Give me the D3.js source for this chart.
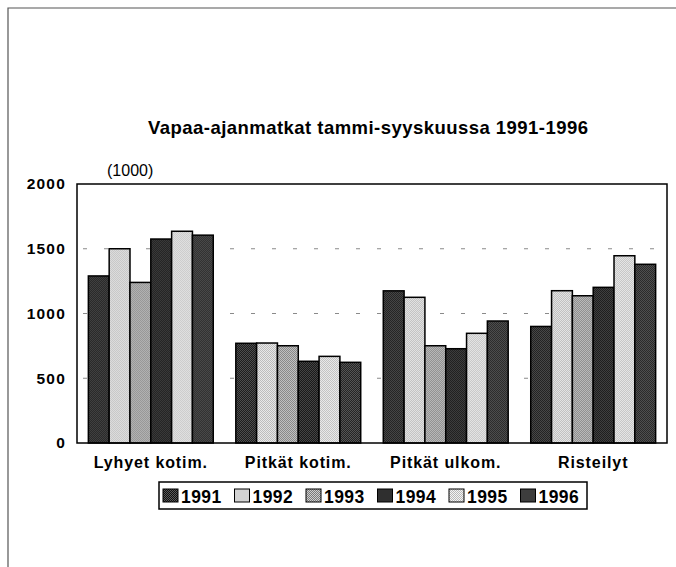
<!DOCTYPE html>
<html>
<head>
<meta charset="utf-8">
<script src="https://cdn.jsdelivr.net/npm/d3@7"></script>
<style>
  body { margin: 0; background: #fff; }
  text { font-family: "Liberation Sans", Arial, sans-serif; }
</style>
</head>
<body>
<div id="chart"></div>
<script>
// data
var categories = ["Lyhyet kotim.", "Pitkät kotim.", "Pitkät ulkom.", "Risteilyt"];
var years = ["1991", "1992", "1993", "1994", "1995", "1996"];
var v1991 = [1290, 770, 1175, 900];
var v1992 = [1500, 772, 1125, 1176];
var v1993 = [1240, 751, 751, 1137];
var v1994 = [1575, 631, 728, 1202];
var v1995 = [1635, 669, 847, 1446];
var v1996 = [1605, 623, 942, 1380];
var yTicks = [0, 500, 1000, 1500, 2000];

var series = [v1991, v1992, v1993, v1994, v1995, v1996];

var width = 676, height = 567;
var margin = {top: 184, right: 9, bottom: 124, left: 77};

var svg = d3.select("#chart").append("svg")
    .attr("width", width)
    .attr("height", height);

// Rastermuster wie im gedruckten Original
var shades = [
    {base: "#101010", dot: "#5a5a5a"},
    {base: "#f4f4f4", dot: "#b0b0b0"},
    {base: "#cfcfcf", dot: "#7a7a7a"},
    {base: "#0e0e0e", dot: "#505050"},
    {base: "#f4f4f4", dot: "#b8b8b8"},
    {base: "#181818", dot: "#626262"}
];
var defs = svg.append("defs");
shades.forEach(function(s, i) {
    var p = defs.append("pattern")
        .attr("id", "pat" + i)
        .attr("patternUnits", "userSpaceOnUse")
        .attr("width", 2).attr("height", 2);
    p.append("rect").attr("width", 2).attr("height", 2).attr("fill", s.base);
    p.append("rect").attr("width", 1).attr("height", 1).attr("fill", s.dot);
    p.append("rect").attr("x", 1).attr("y", 1).attr("width", 1).attr("height", 1).attr("fill", s.dot);
});

// outer page frame
svg.append("path")
    .attr("d", "M8,567 V8 H676")
    .attr("fill", "none")
    .attr("stroke", "#555")
    .attr("stroke-width", 1.2);

var x0 = d3.scaleBand()
    .domain(categories)
    .range([margin.left, width - margin.right])
    .paddingInner(0.153)
    .paddingOuter(0.077);

var x1 = d3.scaleBand()
    .domain(years)
    .range([0, x0.bandwidth()]);

var y = d3.scaleLinear()
    .domain([0, 2000])
    .range([height - margin.bottom, margin.top]);

// dashed grid lines
svg.append("g")
    .selectAll("line")
    .data(yTicks.filter(function(d) { return d > 0 && d < 2000; }))
    .enter().append("line")
    .attr("x1", margin.left + 6)
    .attr("x2", width - margin.right - 4)
    .attr("y1", function(d) { return y(d); })
    .attr("y2", function(d) { return y(d); })
    .attr("stroke", "#8a8a8a")
    .attr("stroke-width", 1)
    .attr("stroke-dasharray", "4,17");

// bars
var groups = svg.append("g")
    .selectAll("g")
    .data(categories)
    .enter().append("g")
    .attr("transform", function(d) { return "translate(" + x0(d) + ",0)"; });

groups.selectAll("rect")
    .data(function(d, ci) { return years.map(function(yr, yi) { return {year: yr, i: yi, value: series[yi][ci]}; }); })
    .enter().append("rect")
    .attr("x", function(d) { return x1(d.year); })
    .attr("y", function(d) { return y(d.value); })
    .attr("width", x1.bandwidth())
    .attr("height", function(d) { return y(0) - y(d.value); })
    .attr("fill", function(d) { return "url(#pat" + d.i + ")"; })
    .attr("stroke", "#000")
    .attr("stroke-width", 1.5);

// plot frame
svg.append("rect")
    .attr("x", margin.left)
    .attr("y", margin.top)
    .attr("width", width - margin.left - margin.right)
    .attr("height", height - margin.top - margin.bottom)
    .attr("fill", "none")
    .attr("stroke", "#000")
    .attr("stroke-width", 1.5);

// y axis labels
var yAxis = svg.append("g")
    .attr("transform", "translate(" + (margin.left - 11) + ",0)")
    .call(d3.axisLeft(y).tickValues(yTicks).tickFormat(d3.format("d")).tickSize(0).tickPadding(0));
yAxis.select(".domain").remove();
yAxis.selectAll("text")
    .attr("font-size", 15.5)
    .attr("font-weight", "bold")
    .attr("letter-spacing", 1.2)
    .attr("fill", "#000")
    .attr("font-family", "Liberation Sans, Arial, sans-serif");

// x axis labels
var xAxis = svg.append("g")
    .attr("transform", "translate(0," + (height - margin.bottom) + ")")
    .call(d3.axisBottom(x0).tickSize(0).tickPadding(14));
xAxis.select(".domain").remove();
xAxis.selectAll("text")
    .attr("font-size", 16)
    .attr("font-weight", "bold")
    .attr("letter-spacing", 0.9)
    .attr("fill", "#000")
    .attr("font-family", "Liberation Sans, Arial, sans-serif");

// unit label
svg.append("text")
    .attr("x", 107)
    .attr("y", 176)
    .attr("font-size", 16)
    .text("(1000)");

// title
svg.append("text")
    .attr("x", 148)
    .attr("y", 134)
    .attr("font-size", 18.5)
    .attr("font-weight", "bold")
    .attr("textLength", 440)
    .attr("lengthAdjust", "spacing")
    .text("Vapaa-ajanmatkat tammi-syyskuussa 1991-1996");

// legend
var legendX = 159, legendY = 482, itemStep = 71.5;
svg.append("rect")
    .attr("x", legendX)
    .attr("y", legendY)
    .attr("width", 428)
    .attr("height", 27)
    .attr("fill", "#fff")
    .attr("stroke", "#000")
    .attr("stroke-width", 1.5);

var legend = svg.append("g")
    .selectAll("g")
    .data(years)
    .enter().append("g")
    .attr("transform", function(d, i) { return "translate(" + (legendX + 4 + i * itemStep) + "," + (legendY + 7) + ")"; });

legend.append("rect")
    .attr("width", 15)
    .attr("height", 13)
    .attr("fill", function(d, i) { return "url(#pat" + i + ")"; })
    .attr("stroke", "#000")
    .attr("stroke-width", 1);

legend.append("text")
    .attr("x", 18)
    .attr("y", 13.5)
    .attr("font-size", 17.5)
    .attr("font-weight", "bold")
    .attr("letter-spacing", 0.4)
    .text(function(d) { return d; });
</script>
</body>
</html>
